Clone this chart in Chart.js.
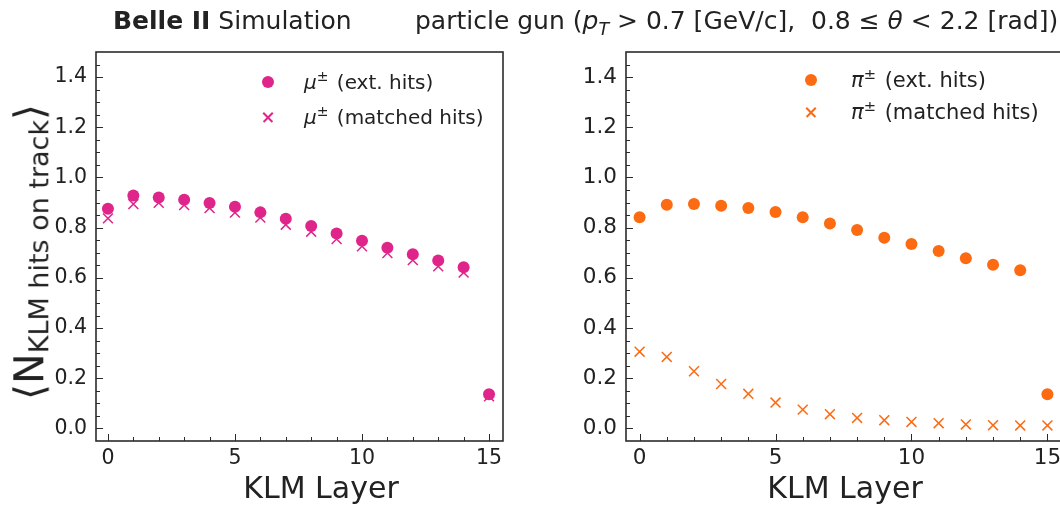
<!DOCTYPE html>
<html>
<head>
<meta charset="utf-8">
<script src="https://cdn.jsdelivr.net/npm/chart.js@4.4.0/dist/chart.umd.min.js"></script>
<style>
  html, body { margin:0; padding:0; width:1060px; height:509px; overflow:hidden; background:#fff; }
  body { position:relative; font-family:"DejaVu Sans", sans-serif; color:#222; }
  canvas { position:absolute; top:0; }
  #c1 { left:0; }
  #c2 { left:530px; }
  .txt { position:absolute; white-space:nowrap; color:#222; line-height:1; }
  .title { top:8px; font-size:25px; }
  .xlab { top:473px; font-size:30px; transform:translateX(-50%); }
  .ylab { left:31px; top:252px; transform:translate(-50%,-50%) rotate(-90deg); font-size:41px; }
  .ylab sub { font-size:27px; vertical-align:-0.2em; }
  .leg { position:absolute; font-size:20px; white-space:nowrap; color:#222; transform:translateY(-50%); }
  .leg sup { font-size:0.7em; vertical-align:0.55em; line-height:0; margin-right:2px; }
  .dot { position:absolute; border-radius:50%; transform:translate(-50%,-50%); }
  .cross { position:absolute; width:11px; height:11px; transform:translate(-50%,-50%); }
  .cross::before, .cross::after { content:""; position:absolute; left:-1px; top:4.75px; width:13px; height:1.5px; background:var(--c); }
  .cross::before { transform:rotate(45deg); }
  .cross::after { transform:rotate(-45deg); }
</style>
</head>
<body>
<canvas id="c1" width="530" height="509"></canvas>
<canvas id="c2" width="540" height="509"></canvas>

<div class="txt title" style="left:113px;"><b>Belle II</b> Simulation</div>
<div class="txt title" style="left:415px;">particle gun (<i>p</i><sub style="font-size:0.7em;"><i>T</i></sub> &gt; 0.7 [GeV/c],&nbsp; 0.8 ≤ <i>θ</i> &lt; 2.2 [rad])</div>
<div class="txt ylab">⟨N<sub>KLM hits on track</sub>⟩</div>
<div class="txt xlab" style="left:321px;">KLM Layer</div>
<div class="txt xlab" style="left:845px;">KLM Layer</div>

<div class="dot" style="left:268px; top:82px; width:12px; height:12px; background:#e0258a;"></div>
<div class="leg" style="left:304px; top:82px;"><i>μ</i><sup>±</sup> (ext. hits)</div>
<div class="cross" style="left:268px; top:117px; --c:#e0258a;"></div>
<div class="leg" style="left:304px; top:117px;"><i>μ</i><sup>±</sup> (matched hits)</div>

<div class="dot" style="left:811px; top:80px; width:12px; height:12px; background:#fc6a12;"></div>
<div class="leg" style="left:851px; top:80px; font-size:21px;"><i>π</i><sup>±</sup> (ext. hits)</div>
<div class="cross" style="left:811px; top:112px; --c:#fc6a12;"></div>
<div class="leg" style="left:851px; top:112px; font-size:21px;"><i>π</i><sup>±</sup> (matched hits)</div>

<script>
// ---- data ----
const layers = [0,1,2,3,4,5,6,7,8,9,10,11,12,13,14,15];
const muExt     = [0.875,0.928,0.920,0.911,0.898,0.883,0.861,0.836,0.807,0.777,0.748,0.720,0.694,0.669,0.642,0.136];
const muMatched = [0.837,0.894,0.899,0.890,0.878,0.860,0.840,0.812,0.784,0.755,0.726,0.699,0.671,0.646,0.621,0.128];
const piExt     = [0.842,0.891,0.894,0.887,0.878,0.862,0.842,0.817,0.791,0.760,0.735,0.707,0.678,0.652,0.630,0.136];
const piMatched = [0.306,0.285,0.228,0.177,0.138,0.103,0.075,0.057,0.042,0.033,0.026,0.021,0.016,0.013,0.012,0.012];
const xTickValues = [0,5,10,15];
const yTickValues = [0.0,0.2,0.4,0.6,0.8,1.0,1.2,1.4];

const muColor = '#e0258a';
const piColor = '#fc6a12';

function pts(vals){ return layers.map((l,i)=>({x:l, y:vals[i]})); }

const frameTicks = {
  id:'frameTicks',
  afterDraw(chart){
    const {ctx, chartArea:a, scales:{x,y}} = chart;
    ctx.save();
    ctx.strokeStyle = '#2b2b2b';
    ctx.lineWidth = 1;
    const ln=(x1,y1,x2,y2)=>{ctx.beginPath();ctx.moveTo(x1,y1);ctx.lineTo(x2,y2);ctx.stroke();};
    for (let v=0; v<=15; v++){
      const px = Math.round(x.getPixelForValue(v))+0.5;
      const len = xTickValues.includes(v) ? 7 : 4;
      ln(px, a.bottom, px, a.bottom-len);
    }
    for (let k=-1; k<=29; k++){
      const v = k*0.05;
      const py = Math.round(y.getPixelForValue(v))+0.5;
      if (py < a.top || py > a.bottom) continue;
      const len = (k%4===0) ? 7 : 4;
      ln(a.left, py, a.left+len, py);
    }
    ctx.lineWidth = 1.6;
    ctx.strokeRect(a.left, a.top, a.right-a.left, a.bottom-a.top);
    ctx.restore();
  }
};

function makeChart(id, ext, matched, color, xmin, xmax, padRight, fontSize){
  return new Chart(document.getElementById(id), {
    type:'scatter',
    data:{ datasets:[
      { label:'ext. hits', data:pts(ext), pointStyle:'circle', pointRadius:6, pointHoverRadius:6,
        backgroundColor:color, borderColor:color, borderWidth:0 },
      { label:'matched hits', data:pts(matched), pointStyle:'crossRot', pointRadius:7, pointHoverRadius:7,
        backgroundColor:color, borderColor:color, borderWidth:1.5 }
    ]},
    options:{
      responsive:false, animation:false, devicePixelRatio:1,
      layout:{ padding:{ top:52, right:padRight, left:0, bottom:0 } },
      plugins:{ legend:{display:false}, tooltip:{enabled:false} },
      scales:{
        x:{ type:'linear', min:xmin, max:xmax,
            afterBuildTicks:(s)=>{ s.ticks = xTickValues.map(v=>({value:v})); },
            afterFit:(s)=>{ s.height = 68; },
            grid:{ display:false, drawTicks:false }, border:{display:false},
            ticks:{ color:'#222', padding:5, font:{family:'DejaVu Sans', size:fontSize}, maxRotation:0,
                    callback:(v)=>String(v) } },
        y:{ type:'linear', min:-0.05, max:1.5,
            afterBuildTicks:(s)=>{ s.ticks = yTickValues.map(v=>({value:v})); },
            afterFit:(s)=>{ s.width = 96; },
            grid:{ display:false, drawTicks:false }, border:{display:false},
            ticks:{ color:'#222', padding:9, font:{family:'DejaVu Sans', size:fontSize},
                    callback:(v)=>Number(v).toFixed(1) } }
      }
    },
    plugins:[frameTicks]
  });
}

makeChart('c1', muExt, muMatched, muColor, -0.47, 15.55, 27, 20.5);
makeChart('c2', piExt, piMatched, piColor, -0.5, 15.5, 9, 21.5);
</script>
</body>
</html>
